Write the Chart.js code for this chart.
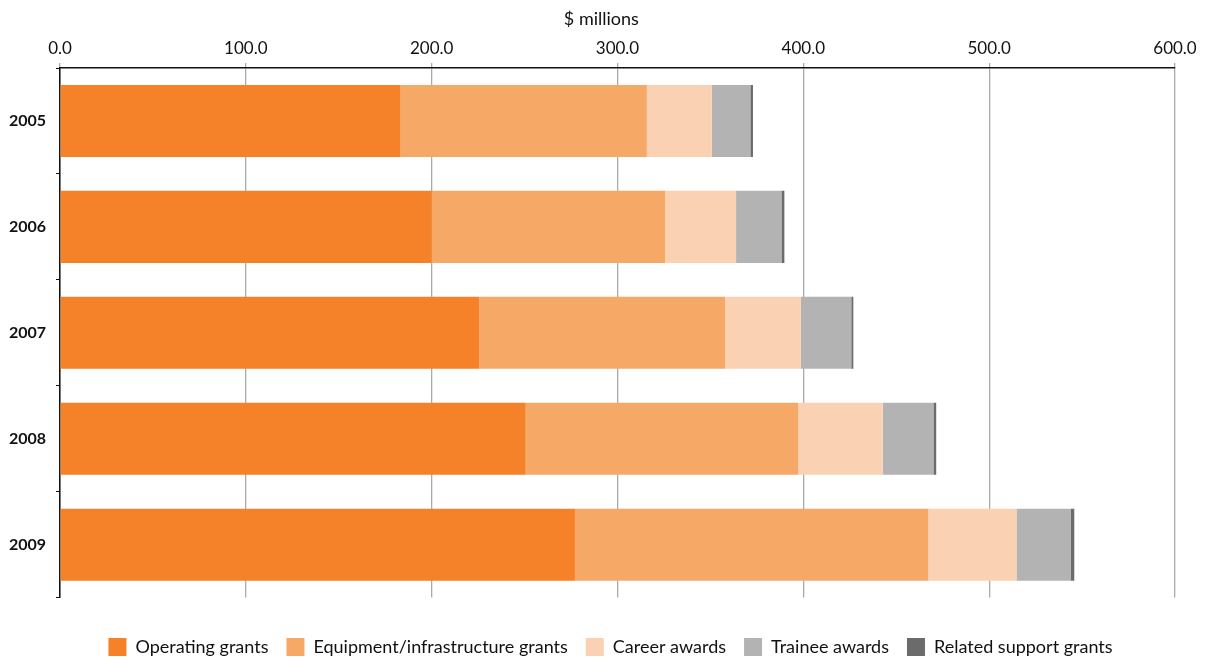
<!DOCTYPE html>
<html lang="en">
<head>
  <meta charset="UTF-8">
  <title>Funding by program type, 2005-2009</title>
  <script src="https://cdn.jsdelivr.net/npm/chart.js"></script>
  <style>
    html, body {
      margin: 0;
      padding: 0;
      background: #fff;
    }
    #wrap {
      width: 1207px;
      height: 658px;
    }
  </style>
</head>
<body>
  <div id="wrap"><canvas id="grantsChart"></canvas></div>

  <script>
    // values, $ millions
    const years = ["2005", "2006", "2007", "2008", "2009"];
    const operating = [183.3, 200.0, 225.6, 250.6, 277.1];
    const equipment = [132.5, 125.6, 132.3, 146.7, 190.2];
    const career = [35.0, 38.2, 40.8, 45.4, 47.4];
    const trainee = [20.7, 24.4, 27.1, 27.3, 29.1];
    const related = [1.4, 1.6, 1.1, 1.5, 2.0];
    const seriesNames = ["Operating grants", "Equipment/infrastructure grants", "Career awards", "Trainee awards", "Related support grants"];
    const seriesColors = ["#f58229", "#f6a866", "#fad2b3", "#b3b3b3", "#6b6b6b"];

    const font = "Lato, 'Noto Sans', sans-serif";
    Chart.defaults.font.family = font;
    Chart.defaults.color = "#111";

    const allSeries = [operating, equipment, career, trainee, related];

    // nudge the legend a bit right, like the original
    const legendShift = {
      id: "legendShift",
      afterLayout(chart) {
        chart.legend.left += 23;
        chart.legend.right += 23;
      }
    };

    new Chart(document.getElementById("grantsChart"), {
      type: "bar",
      data: {
        labels: years,
        datasets: allSeries.map((vals, i) => ({
          label: seriesNames[i],
          data: vals,
          backgroundColor: seriesColors[i],
          borderWidth: 0,
          barPercentage: 0.68,
          categoryPercentage: 1.0
        }))
      },
      options: {
        indexAxis: "y",
        responsive: true,
        maintainAspectRatio: false,
        animation: false,
        layout: { padding: { left: 0, right: 32, top: 8, bottom: -8 } },
        scales: {
          x: {
            position: "top",
            stacked: true,
            min: 0,
            max: 600,
            ticks: {
              stepSize: 100,
              font: { size: 17 },
              padding: 4,
              callback: v => v.toFixed(1)
            },
            grid: {
              color: "#aaaaaa",
              lineWidth: 1.3,
              tickLength: 5
            },
            border: { color: "#111", width: 1.5 },
            title: {
              display: true,
              // trailing spaces pull the title back to the page centre
              text: "$ millions       ",
              font: { size: 18 },
              padding: { top: 0, bottom: 5 }
            }
          },
          y: {
            stacked: true,
            afterFit: axis => { axis.width = 60; },
            ticks: {
              font: { size: 16, weight: "bold" },
              padding: 10
            },
            grid: {
              offset: true,
              drawOnChartArea: false,
              color: "#111",
              tickLength: 4
            },
            border: { color: "#111", width: 1.5 }
          }
        },
        plugins: {
          legend: {
            position: "bottom",
            title: {
              display: true,
              text: "",
              font: { size: 2 },
              padding: { top: 0, bottom: 20 }
            },
            labels: {
              boxWidth: 18,
              boxHeight: 18,
              padding: 18,
              font: { size: 18 },
              color: "#111"
            }
          },
          tooltip: { enabled: false }
        }
      },
      plugins: [legendShift]
    });
  </script>
</body>
</html>
